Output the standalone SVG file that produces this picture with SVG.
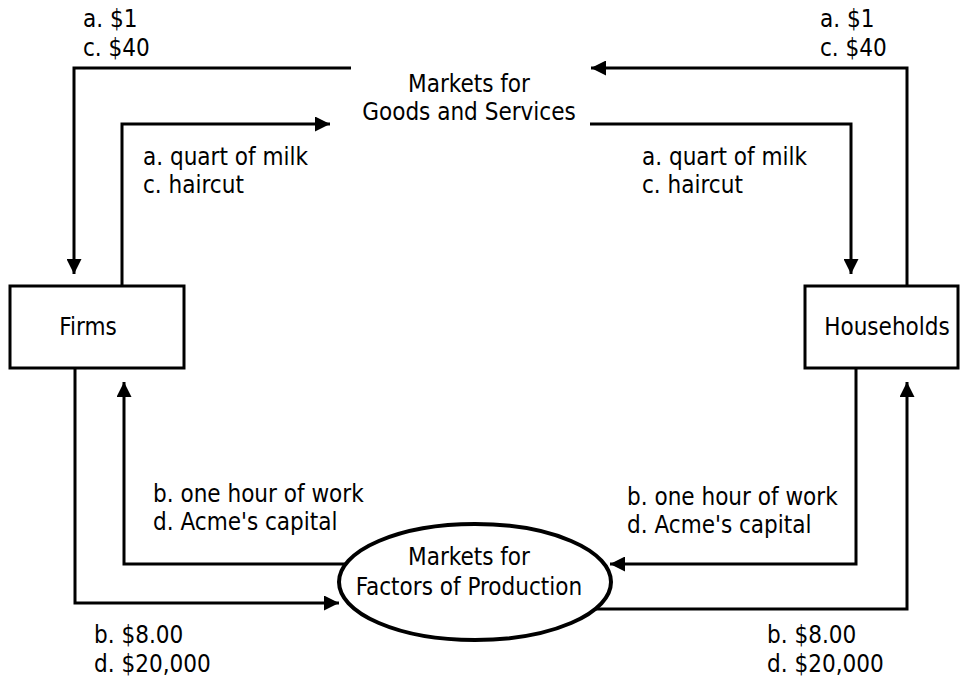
<svg xmlns="http://www.w3.org/2000/svg" width="968" height="679" viewBox="0 0 968 679">
<style>
text{font-family:"DejaVu Sans Condensed","Liberation Sans",sans-serif;font-size:24px;fill:#000}
.c{text-anchor:middle}
.ln{fill:none;stroke:#000;stroke-width:3;marker-end:url(#ah)}
.node{fill:#fff;stroke:#000;stroke-width:3}
</style>
<defs>
<marker id="ah" viewBox="0 0 15 15" refX="15" refY="7.5" markerWidth="15" markerHeight="15" markerUnits="userSpaceOnUse" orient="auto"><path d="M0,0 L15,7.5 L0,15 z" fill="#000"/></marker>
</defs>
<rect width="968" height="679" fill="#fff"/>
<g id="connectors">
<path class="ln" d="M351,68 H74 V274"/>
<path class="ln" d="M907,286 V68 H591"/>
<path class="ln" d="M122,286 V124 H330"/>
<path class="ln" d="M590,124 H851 V274"/>
<path class="ln" d="M345,564 H124 V382"/>
<path class="ln" d="M75,368 V603 H339"/>
<path class="ln" d="M856,368 V564 H610"/>
<path class="ln" d="M595,609 H907 V382"/>
</g>
<g id="labels">
<text x="83" y="27">a. $1</text>
<text x="83" y="56">c. $40</text>
<text x="820" y="27">a. $1</text>
<text x="820" y="56">c. $40</text>
<text x="143" y="165">a. quart of milk</text>
<text x="143" y="193">c. haircut</text>
<text x="642" y="165">a. quart of milk</text>
<text x="642" y="193">c. haircut</text>
<text x="153" y="502">b. one hour of work</text>
<text x="153" y="530">d. Acme's capital</text>
<text x="627" y="505">b. one hour of work</text>
<text x="627" y="533">d. Acme's capital</text>
<text x="94" y="643">b. $8.00</text>
<text x="94" y="672">d. $20,000</text>
<text x="767" y="643">b. $8.00</text>
<text x="767" y="672">d. $20,000</text>
</g>
<g id="goods-market">
<text class="c" x="469" y="92">Markets for</text>
<text class="c" x="469" y="120">Goods and Services</text>
</g>
<g id="firms">
<rect class="node" x="10" y="286" width="174" height="82"/>
<text class="c" x="88" y="335">Firms</text>
</g>
<g id="households">
<rect class="node" x="805" y="286" width="153" height="82"/>
<text class="c" x="887" y="335">Households</text>
</g>
<g id="factor-market">
<ellipse cx="475" cy="582" rx="136" ry="58" fill="#fff" stroke="#000" stroke-width="4"/>
<text class="c" x="469" y="565">Markets for</text>
<text class="c" x="469" y="595">Factors of Production</text>
</g>
</svg>
